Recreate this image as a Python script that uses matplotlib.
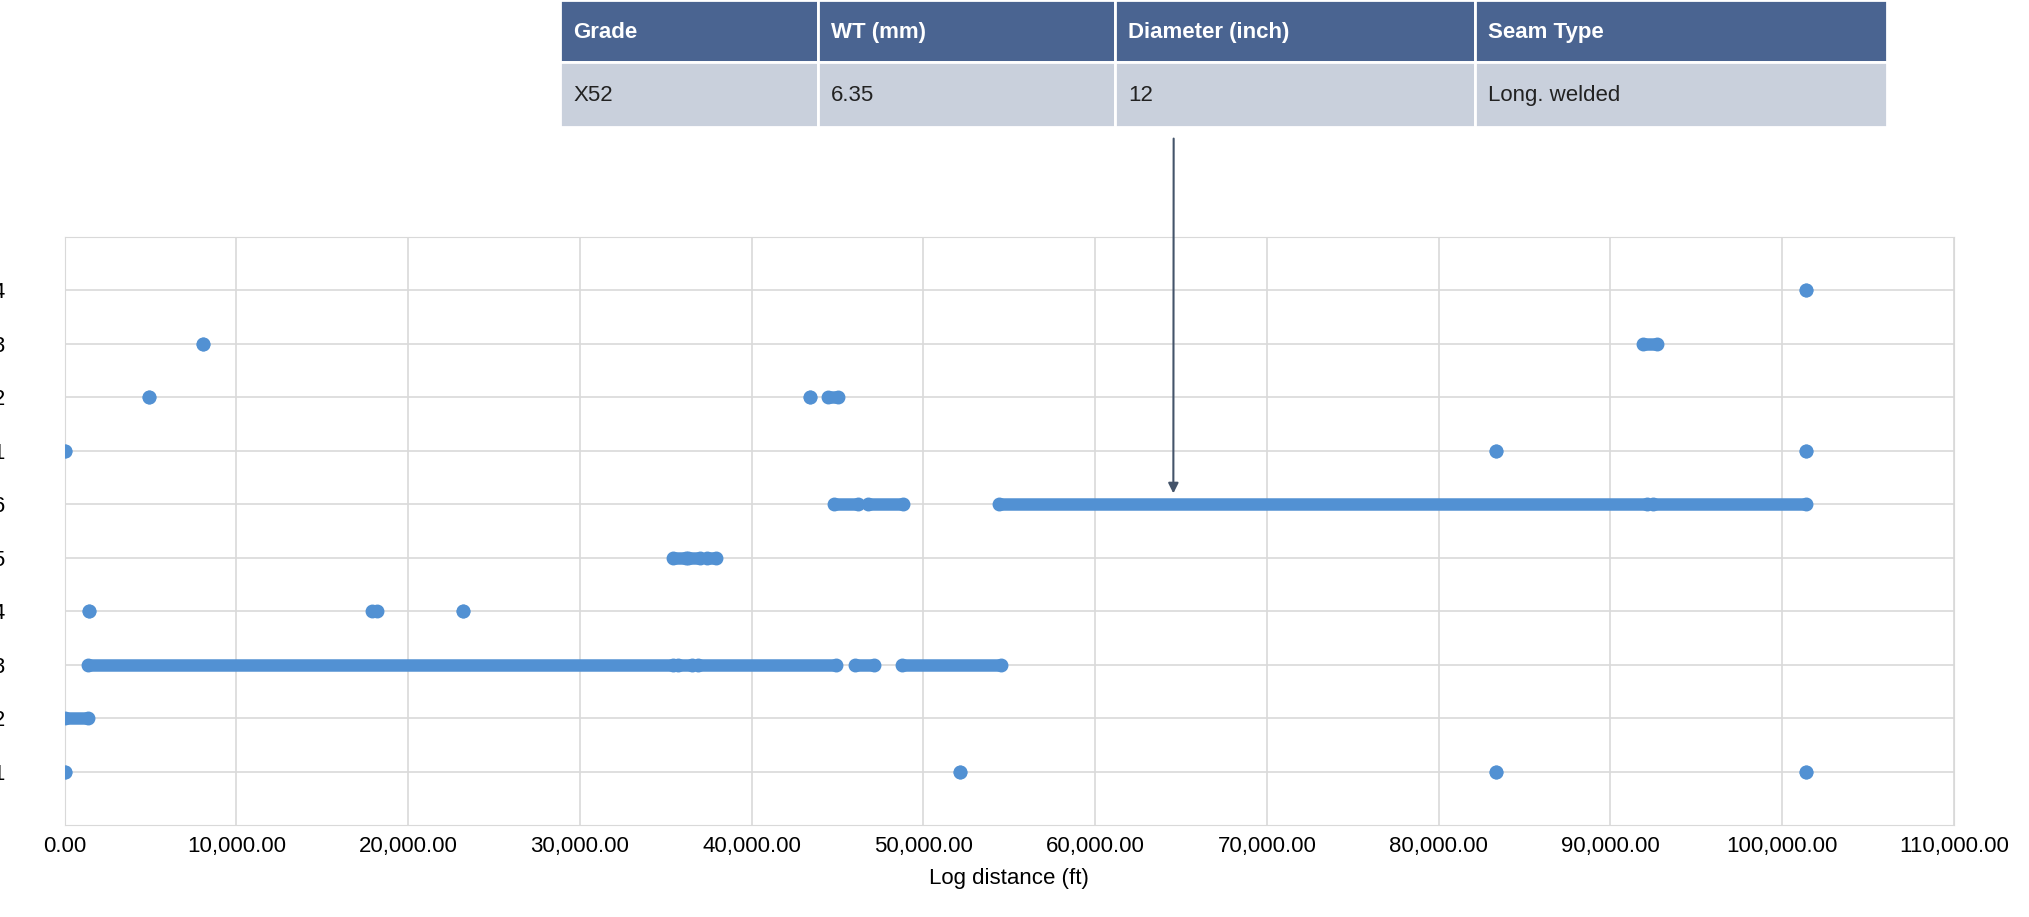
import matplotlib
matplotlib.use("Agg")
import matplotlib.pyplot as plt
from matplotlib.patches import Rectangle
from matplotlib.ticker import FuncFormatter

plt.rcParams["font.family"] = "Liberation Sans"

categories = ["A1", "A2", "A3", "A4", "A5", "A6", "B1", "B2", "B3", "B4"]
# segments per category: (start ft, end ft)
segments = {
    "A1": [(0, 0), (52140, 52140), (83340, 83340), (101400, 101400)],
    "A2": [(0, 1350)],
    "A3": [(1350, 35400), (35700, 36500), (36900, 44900), (46000, 47100), (48750, 54500)],
    "A4": [(1430, 1430), (17900, 18200), (23200, 23200)],
    "A5": [(35400, 36200), (36300, 37000), (37400, 37900)],
    "A6": [(44800, 46200), (46800, 48800), (54400, 92100), (92500, 101400)],
    "B1": [(0, 0), (83340, 83340), (101400, 101400)],
    "B2": [(4900, 4900), (43400, 43400), (44450, 45050)],
    "B3": [(8060, 8060), (91900, 92700)],
    "B4": [(101400, 101400)],
}
xticks = list(range(0, 110001, 10000))
table_headers = ["Grade", "WT (mm)", "Diameter (inch)", "Seam Type"]
table_values = ["X52", "6.35", "12", "Long. welded"]
arrow_x = 64550

W, H = 1568, 709
fig = plt.figure(figsize=(20.29, 9.17), dpi=100)
ax = fig.add_axes([50 / W, 1 - 638 / H, (1510 - 50) / W, (638 - 183) / H])
color = "#5291d3"
for i, c in enumerate(categories):
    y = i + 1
    for s, e in segments[c]:
        ax.plot([s, e], [y, y], color=color, lw=9, solid_capstyle="round",
                marker="o", ms=9, zorder=3)
ax.set_xlim(0, 110000)
ax.set_ylim(0, 11)
ax.set_yticks(range(1, len(categories) + 1))
ax.set_yticklabels(categories, fontsize=16)
ax.set_xticks(xticks)
ax.xaxis.set_major_formatter(FuncFormatter(lambda v, p: f"{v:,.2f}"))
ax.tick_params(axis="x", labelsize=16, length=0, pad=8)
ax.tick_params(axis="y", length=0, pad=62)
for t in ax.get_yticklabels():
    t.set_horizontalalignment("left")
ax.grid(True, color="#d9d9d9", lw=1.2)
for sp in ax.spines.values():
    sp.set_color("#d9d9d9")
ax.set_xlabel("Log distance (ft)", fontsize=16, labelpad=8)

# table
tax = fig.add_axes([0, 0, 1, 1], facecolor="none")
tax.set_xlim(0, W)
tax.set_ylim(H, 0)
tax.axis("off")
cols = [433, 632, 862, 1140, 1458]
for j in range(4):
    x0, x1 = cols[j], cols[j + 1]
    tax.add_patch(Rectangle((x0, 0), x1 - x0, 48, fc="#4a6491", ec="white", lw=2))
    tax.add_patch(Rectangle((x0, 48), x1 - x0, 50, fc="#c9d0dc", ec="white", lw=2))
    tax.text(x0 + 10, 25, table_headers[j], color="white", fontweight="bold",
             fontsize=16, va="center", ha="left")
    tax.text(x0 + 10, 74, table_values[j], color="#222222", fontsize=16,
             va="center", ha="left")

ax.annotate("", xy=(arrow_x, 6.15), xycoords="data",
            xytext=(907 / W, 1 - 105 / H), textcoords="figure fraction",
            arrowprops=dict(arrowstyle="-|>", color="#44546a", lw=1.5, mutation_scale=15),
            annotation_clip=False)

fig.savefig("out.png", dpi=100)
